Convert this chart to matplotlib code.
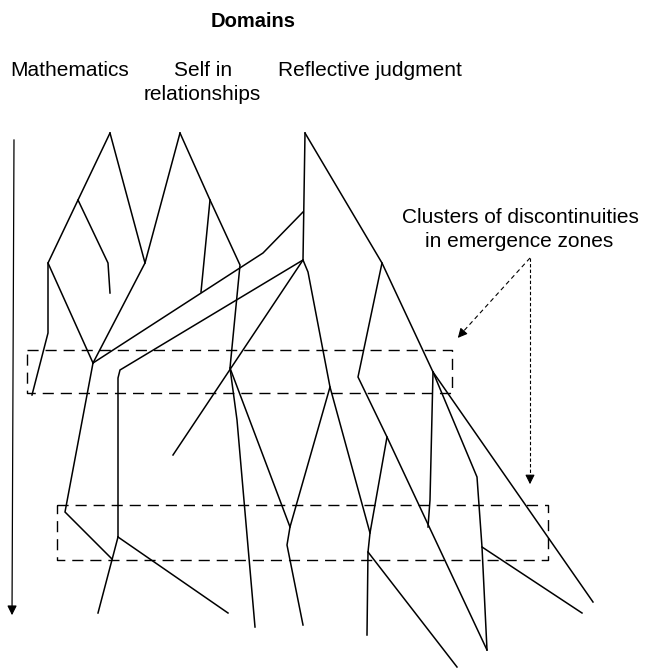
import matplotlib
matplotlib.use("Agg")
import matplotlib.pyplot as plt

plt.rcParams['font.family'] = ['Liberation Sans', 'DejaVu Sans']

# domain labels (text, x, baseline y)
domain_labels = [("Mathematics", 10, 76, "left"),
                 ("Self in", 203, 76, "center"),
                 ("relationships", 202, 100, "center"),
                 ("Reflective judgment", 278, 76, "left")]

# strands of the developmental web, per domain (x, y) with y growing downwards
math_strands = [
    [(110, 133), (78, 200), (48, 263), (48, 333), (32, 395)],
    [(78, 200), (108, 263), (110, 293)],
    [(110, 133), (145, 263), (93, 363)],
    [(48, 263), (93, 363)],
    [(93, 363), (65, 512), (112, 559)],
    [(118, 537), (98, 613)],
    [(118, 537), (228, 613)],
]
self_strands = [
    [(180, 133), (145, 263)],
    [(180, 133), (210, 200), (240, 265), (230, 368), (237, 420), (255, 627)],
    [(210, 200), (201, 292)],
    [(230, 368), (290, 527), (287, 545), (303, 625)],
]
cross_strands = [
    [(93, 363), (263, 253), (303, 212)],
    [(303, 260), (120, 370), (118, 378), (118, 537)],
    [(303, 260), (173, 455)],
]
reflective_strands = [
    [(305, 133), (303, 260), (308, 272), (330, 387), (370, 533), (368, 552), (367, 635)],
    [(330, 387), (290, 527)],
    [(305, 133), (382, 263), (433, 372), (593, 602)],
    [(382, 263), (358, 377), (387, 437), (487, 650)],
    [(387, 437), (370, 533)],
    [(368, 552), (457, 667)],
    [(433, 372), (430, 500), (428, 527)],
    [(433, 372), (477, 477), (482, 547), (487, 650)],
    [(482, 547), (582, 613)],
]

# emergence zones (x0, x1, y0, y1)
zones = [(27, 452, 350, 393), (57, 548, 505, 560)]

fig = plt.figure(figsize=(6.45, 6.69), dpi=100)
ax = fig.add_axes([0, 0, 1, 1])
ax.set_xlim(0, 645)
ax.set_ylim(669, 0)
ax.axis('off')

# header
ax.text(253, 27, "Domains", fontsize=14.5, fontweight='bold', ha='center', va='baseline')
for txt, x, y, ha in domain_labels:
    ax.text(x, y, txt, fontsize=15, ha=ha, va='baseline')

# web
for group in (math_strands, self_strands, cross_strands, reflective_strands):
    for s in group:
        xs = [p[0] for p in s]
        ys = [p[1] for p in s]
        ax.plot(xs, ys, color='black', lw=1.1, solid_joinstyle='miter')

# time arrow on the left
ax.annotate('', xy=(12, 618), xytext=(14, 137),
            arrowprops=dict(arrowstyle='-|>', color='black', lw=0.9, mutation_scale=14))

# emergence zone boxes
for x0, x1, y0, y1 in zones:
    ax.plot([x0, x1, x1, x0, x0], [y0, y0, y1, y1, y0], color='black', lw=1.0,
            linestyle=(0, (8, 5)))

# annotation
ax.text(520, 223, "Clusters of discontinuities", fontsize=15, ha='center', va='baseline')
ax.text(519, 247, "in emergence zones", fontsize=15, ha='center', va='baseline')
ax.plot([530, 461], [258, 334], color='black', lw=0.8, linestyle=(0, (4, 3)))
ax.annotate('', xy=(456, 340), xytext=(463, 332),
            arrowprops=dict(arrowstyle='-|>', color='black', lw=0.8, mutation_scale=14))
ax.plot([530, 530], [258, 478], color='black', lw=0.8, linestyle=(0, (3, 2)))
ax.annotate('', xy=(530, 487), xytext=(530, 476),
            arrowprops=dict(arrowstyle='-|>', color='black', lw=0.8, mutation_scale=14))

fig.savefig("out.png", dpi=100)
